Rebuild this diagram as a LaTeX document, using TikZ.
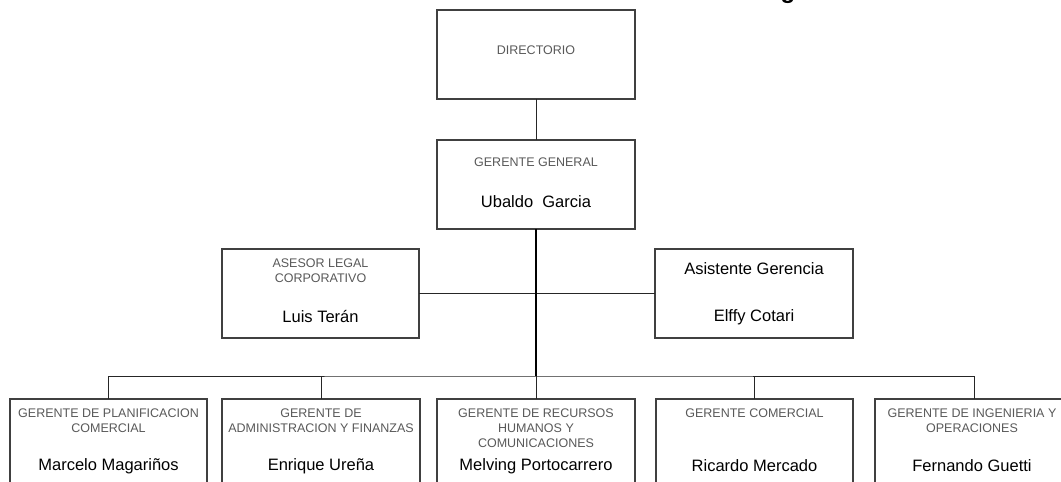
\documentclass[tikz,border=0pt]{standalone}
\usepackage{fontspec}
\setmainfont{Liberation Sans}
\begin{document}
\begin{tikzpicture}[x=1pt,y=-1pt,
  box/.style={draw=black!75, line width=1.1pt, fill=white, anchor=north west, inner sep=0pt, outer sep=0pt},
  captxt/.style={text=black!65, font=\fontsize{12.5}{15}\selectfont, align=center, inner sep=0pt},
  nametxt/.style={text=black, font=\fontsize{16.5}{19}\selectfont, inner sep=0pt},
  conn/.style={draw=black!85, line width=1pt},
  trunk/.style={draw=black, line width=2pt}]
\useasboundingbox (0,0) rectangle (1061,482);
\fill[white] (0,0) rectangle (1061,482);
% title fragment at top (cut off by the top edge)
\begin{scope}
\clip (0,0) rectangle (1061,482);
\node[anchor=base, font=\bfseries\fontsize{24}{28}\selectfont, inner sep=0pt] (ttl) at (788pt,1.5pt) {g};
\end{scope}
% boxes
\node[box, minimum width=198pt, minimum height=89pt] (dir) at (437,10) {};
\node[box, minimum width=198pt, minimum height=89pt] (gg) at (437,140) {};
\node[box, minimum width=197pt, minimum height=89pt] (ase) at (222,249) {};
\node[box, minimum width=198pt, minimum height=89pt] (asi) at (655,249) {};
\node[box, minimum width=197pt, minimum height=110pt] (b1) at (10,399) {};
\node[box, minimum width=198pt, minimum height=110pt] (b2) at (222,399) {};
\node[box, minimum width=198pt, minimum height=110pt] (b3) at (437,399) {};
\node[box, minimum width=197pt, minimum height=110pt] (b4) at (656,399) {};
\node[box, minimum width=198pt, minimum height=110pt] (b5) at (875,399) {};
% connectors
\coordinate (bus) at (536,376);
\draw[conn] (dir.south) -- (gg.north);
\draw[conn] (ase.east) -- (asi.west);
\draw[trunk] (gg.south) -- (bus);
\draw[conn] (b1.north) |- (bus) -| (b5.north);
\draw[conn] (b2.north) -- (b2.north |- bus);
\draw[conn] (b3.north) -- (bus);
\draw[conn] (b4.north) -- (b4.north |- bus);
% texts
\node[captxt] (dirT) at (536,50) {DIRECTORIO};
\node[captxt] (ggT) at (536,162) {GERENTE GENERAL};
\node[nametxt] (ggN) at (536,202) {Ubaldo\ \ Garcia};
\node[captxt] (aseT) at (320.5,270.5) {ASESOR LEGAL\\CORPORATIVO};
\node[nametxt] (aseN) at (320.5,317) {Luis\ Terán};
\node[nametxt] (asiT) at (754,269) {Asistente\ Gerencia};
\node[nametxt] (asiN) at (754,317) {Elffy\ Cotari};
\node[captxt] (b1T) at (108.5,420.5) {GERENTE DE PLANIFICACION\\COMERCIAL};
\node[nametxt] (b1N) at (108.5,466) {Marcelo\ Magariños};
\node[captxt] (b2T) at (321,420.5) {GERENTE DE\\ADMINISTRACION Y FINANZAS};
\node[nametxt] (b2N) at (321,466) {Enrique\ Ureña};
\node[captxt] (b3T) at (536,428) {GERENTE DE RECURSOS\\HUMANOS Y\\COMUNICACIONES};
\node[nametxt] (b3N) at (536,466) {Melving\ Portocarrero};
\node[captxt] (b4T) at (754.5,413) {GERENTE COMERCIAL};
\node[nametxt] (b4N) at (754.5,466) {Ricardo\ Mercado};
\node[captxt] (b5T) at (972,420.5) {GERENTE DE INGENIERIA Y\\OPERACIONES};
\node[nametxt] (b5N) at (972,466) {Fernando\ Guetti};
\end{tikzpicture}
\end{document}
